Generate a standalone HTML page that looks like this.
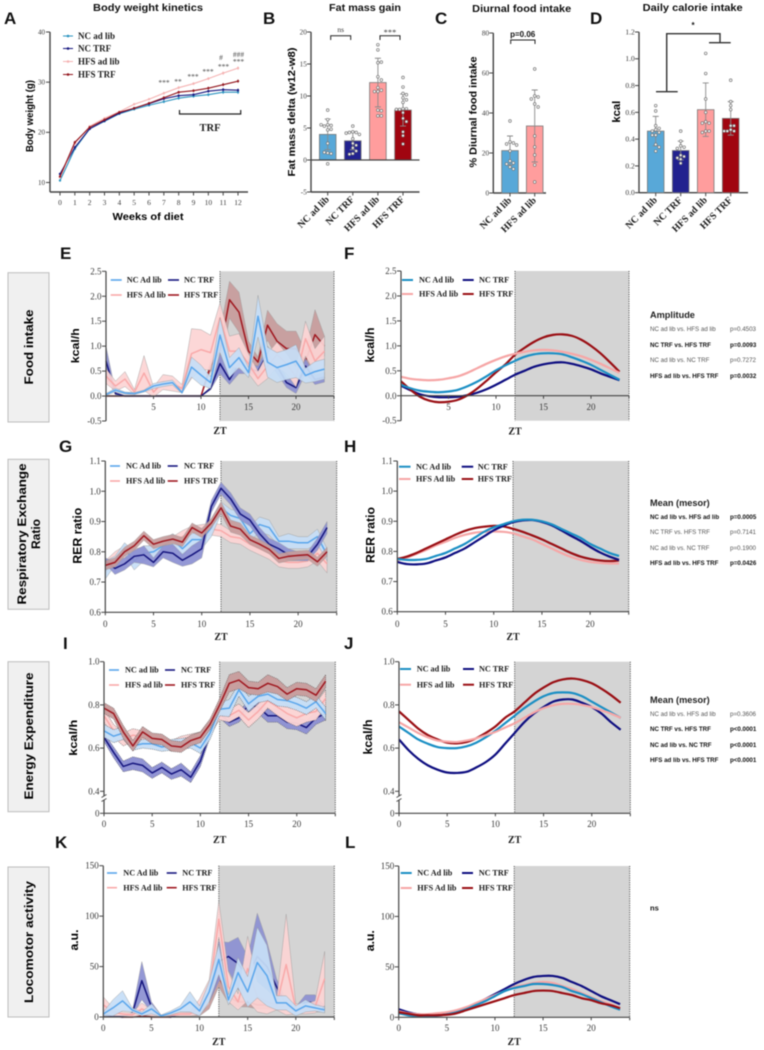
<!DOCTYPE html>
<html lang="en">
<head>
<meta charset="utf-8">
<title>Diet and time-restricted feeding figure</title>
<style>
html,body{margin:0;padding:0;background:#fff;width:764px;height:1050px;overflow:hidden}
svg{display:block;filter:blur(.4px)}
.t{font-family:"Liberation Sans",sans-serif;font-weight:bold;fill:#111}
.s{font-family:"Liberation Serif",serif;fill:#3a3a3a}
.sb{font-family:"Liberation Serif",serif;font-weight:bold;fill:#1c1c1c}
.l{font-family:"Liberation Sans",sans-serif;font-weight:bold;fill:#000}
.r{font-family:"Liberation Sans",sans-serif;font-size:6.2px;fill:#555}
.rb{font-family:"Liberation Sans",sans-serif;font-size:6.2px;font-weight:bold;fill:#111}
.h{font-family:"Liberation Sans",sans-serif;font-size:9.2px;font-weight:bold;fill:#222}
</style>
</head>
<body>
<svg id="figure" xmlns="http://www.w3.org/2000/svg" width="764" height="1050" viewBox="0 0 764 1050">
<rect x="0" y="0" width="764" height="1050" fill="#fff"/>

<g font-family="Liberation Sans" font-weight="bold" font-size="17" fill="#111">
<text x="4" y="24">A</text>
<text x="263" y="24">B</text>
<text x="435" y="24">C</text>
<text x="590" y="24">D</text>
<text x="60" y="259">E</text>
<text x="344" y="259">F</text>
<text x="59" y="452">G</text>
<text x="344" y="452">H</text>
<text x="63" y="649">I</text>
<text x="344" y="649">J</text>
<text x="55" y="848">K</text>
<text x="345" y="848">L</text>
</g>

<g text-anchor="middle">
<text class="t" x="148" y="11" font-size="10" textLength="110" lengthAdjust="spacingAndGlyphs">Body weight kinetics</text>
<text class="t" x="365" y="11" font-size="10" textLength="72" lengthAdjust="spacingAndGlyphs">Fat mass gain</text>
<text class="t" x="521.7" y="12" font-size="10" textLength="99" lengthAdjust="spacingAndGlyphs">Diurnal food intake</text>
<text class="t" x="692.7" y="11" font-size="10" textLength="100" lengthAdjust="spacingAndGlyphs">Daily calorie intake</text>
</g>

<g>
<rect x="8" y="272.7" width="41" height="149.3" fill="#f0f0f0" stroke="#bdbdbd"/>
<text class="l" text-anchor="middle" font-size="12" transform="translate(33,347) rotate(-90)" textLength="75" lengthAdjust="spacingAndGlyphs">Food intake</text>
</g>
<g>
<rect x="8" y="459.3" width="41" height="150" fill="#f0f0f0" stroke="#bdbdbd"/>
<text class="l" text-anchor="middle" font-size="12" transform="translate(26,534) rotate(-90)" textLength="141" lengthAdjust="spacingAndGlyphs">Respiratory Exchange</text>
<text class="l" text-anchor="middle" font-size="12" transform="translate(40,534) rotate(-90)">Ratio</text>
</g>
<g>
<rect x="8" y="661.7" width="41" height="150" fill="#f0f0f0" stroke="#bdbdbd"/>
<text class="l" text-anchor="middle" font-size="12" transform="translate(33,736) rotate(-90)" textLength="127" lengthAdjust="spacingAndGlyphs">Energy Expenditure</text>
</g>
<g>
<rect x="8" y="867" width="41" height="150" fill="#f0f0f0" stroke="#bdbdbd"/>
<text class="l" text-anchor="middle" font-size="12" transform="translate(33,942) rotate(-90)" textLength="122" lengthAdjust="spacingAndGlyphs">Locomotor activity</text>
</g>

<g id="charts"></g>

<g text-anchor="middle">
<g class="s" font-size="7.5" fill="#666">
<text x="164" y="85">***</text>
<text x="178" y="84">**</text>
<text x="193" y="79">***</text>
<text x="208" y="74">***</text>
<text x="223.5" y="69">***</text>
<text x="221" y="60">#</text>
<text x="238.5" y="64">***</text>
<text x="238.5" y="57">###</text>
</g>
<path d="M179.5 110V114H240.7V110" fill="none" stroke="#222" stroke-width="1.2"/>
<text class="sb" x="210" y="131" font-size="10.5">TRF</text>
</g>

<g text-anchor="middle">
<path d="M330.7 40V35.7H350.7V40" fill="none" stroke="#222"/>
<text class="s" x="340.7" y="32" font-size="7.5" fill="#777">ns</text>
<path d="M380 40V35.7H400V40" fill="none" stroke="#222"/>
<text class="s" x="390" y="35" font-size="8.5" fill="#555">***</text>
</g>
<g text-anchor="middle">
<path d="M510.7 44V40H535V44" fill="none" stroke="#222"/>
<text class="t" x="522.7" y="37" font-size="8">p=0.06</text>
</g>
<g text-anchor="middle">
<path d="M656 91.7H677.7M666.7 91.7V33.7H720V42.7M709 42.7H730.7" fill="none" stroke="#333" stroke-width="1.4"/>
<text class="t" x="693" y="28" font-size="8">*</text>
</g>

<g>
<text class="h" x="650" y="318">Amplitude</text>
<text class="r" x="650" y="331">NC ad lib vs. HFS ad lib</text><text class="r" x="730" y="331">p=0.4503</text>
<text class="rb" x="650" y="347">NC TRF vs. HFS TRF</text><text class="rb" x="730" y="347">p=0.0093</text>
<text class="r" x="650" y="362">NC ad lib vs. NC TRF</text><text class="r" x="730" y="362">p=0.7272</text>
<text class="rb" x="650" y="378">HFS ad lib vs. HFS TRF</text><text class="rb" x="730" y="378">p=0.0032</text>
</g>
<g>
<text class="h" x="650" y="506">Mean (mesor)</text>
<text class="rb" x="650" y="519">NC ad lib vs. HFS ad lib</text><text class="rb" x="730" y="519">p=0.0005</text>
<text class="r" x="650" y="534">NC TRF vs. HFS TRF</text><text class="r" x="730" y="534">p=0.7141</text>
<text class="r" x="650" y="550">NC ad lib vs. NC TRF</text><text class="r" x="730" y="550">p=0.1900</text>
<text class="rb" x="650" y="565">HFS ad lib vs. HFS TRF</text><text class="rb" x="730" y="565">p=0.0426</text>
</g>
<g>
<text class="h" x="650" y="703">Mean (mesor)</text>
<text class="r" x="650" y="716">NC ad lib vs. HFS ad lib</text><text class="r" x="730" y="716">p=0.3606</text>
<text class="rb" x="650" y="731">NC TRF vs. HFS TRF</text><text class="rb" x="730" y="731">p&lt;0.0001</text>
<text class="rb" x="650" y="747">NC ad lib vs. NC TRF</text><text class="rb" x="730" y="747">p&lt;0.0001</text>
<text class="rb" x="650" y="762">HFS ad lib vs. HFS TRF</text><text class="rb" x="730" y="762">p&lt;0.0001</text>
</g>
<text class="t" x="650" y="910.5" font-size="7.5">ns</text>
</svg>

<script>
// ---------- Panel A data ----------
const aWeeks = [0,1,2,3,4,5,6,7,8,9,10,11,12];
const aYTicks = [10,20,30,40];
const aNcAdLib = [10.4,16.7,20.7,22.2,23.7,24.6,25.4,26.1,26.8,27.2,27.5,28,28];
const aNcTrf = [11.7,17,20.7,22.3,23.8,24.8,25.7,26.7,27.3,27.5,28.2,28.5,28.4];
const aHfsAdLib = [11,17.8,21.2,22.8,24.1,25.6,26.6,27.8,28.9,29.7,30.7,31.8,32.8];
const aHfsTrf = [11.2,18,21,22.5,24,24.8,25.8,26.9,28,28.3,28.8,29.5,30.2];
const aErrors = [0.2,0.3,0.2,0.2,0.2,0.2,0.2,0.3,0.3,0.3,0.3,0.35,0.35];

// ---------- Panels B, C, D data ----------
const bCategories = ['NC ad lib','NC TRF','HFS ad lib','HFS TRF'];
const bYTicks = [-5,0,5,10,15,20];
const bMeans = [4,3,12.1,7.8];
const bErrors = [2.4,1.4,3.8,2.5];
const bDots = [
  [7.8,6.3,5.5,5.4,5.3,5.5,4.7,4.8,2.6,1.1,1.0,1.2,-0.6],
  [5.3,4.4,4.3,4.3,4.2,4.0,3.3,2.6,2.3,1.9,1.4,1.0,0.9],
  [18,17.2,15.2,15.3,13,12.5,11.3,10.9,10.7,10.7,7.8,7.7,6.9,6.9],
  [12.9,11.4,10.4,10.2,9.7,9.4,9,8,8,7.9,7.9,7.4,6.5,6,4.4,3.8,2.5]
];
const cCategories = ['NC ad lib','HFS ad lib'];
const cYTicks = [0,20,40,60,80];
const cMeans = [21.2,33.5];
const cErrors = [7.3,18];
const cDots = [
  [36,25.5,25,24.5,24,21,16,15,14.5,13,12],
  [62,48.5,48,47,44.5,43,28.5,23,19,14,5.5]
];
const dCategories = ['NC ad lib','NC TRF','HFS ad lib','HFS TRF'];
const dYTicks = [0,0.2,0.4,0.6,0.8,1.0,1.2];
const dMeans = [0.46,0.315,0.62,0.555];
const dErrors = [0.11,0.07,0.2,0.125];
const dDots = [
  [0.65,0.61,0.5,0.48,0.47,0.46,0.45,0.43,0.43,0.36,0.34,0.31],
  [0.46,0.385,0.35,0.34,0.33,0.28,0.27,0.26,0.25,0.22],
  [1.04,0.89,0.7,0.6,0.53,0.52,0.52,0.46,0.46,0.45],
  [0.84,0.68,0.65,0.62,0.5,0.5,0.47,0.46,0.46,0.46]
];

// ---------- Circadian data ----------
const hours = [0,1,2,3,4,5,6,7,8,9,10,11,12,13,14,15,16,17,18,19,20,21,22,23];
const zXTicks = [0,5,10,15,20];
const zXTicksNoZero = [5,10,15,20];

const eYTicks = [-0.5,0,0.5,1,1.5,2,2.5];
const eNcAd = [0.03,0.12,0.06,0.05,0.1,0.2,0.24,0.27,0.07,0.58,0.42,0.27,1.22,0.57,0.77,0.47,1.6,0.68,0.57,0.63,0.7,0.41,0.49,0.54];
const eNcAdErr = [0.02,0.04,0.02,0.02,0.02,0.05,0.05,0.05,0.02,0.2,0.2,0.12,0.35,0.2,0.2,0.1,0.42,0.3,0.3,0.3,0.33,0.15,0.2,0.2];
const eNcTrf = [0.7,0.05,0,0,0,0,0,0,0,0,0,0.15,0.65,0.33,0.65,0.55,0.5,0.85,0.6,0.27,0.17,0.6,0.33,0.38];
const eNcTrfErr = [0.3,0.03,0,0,0,0,0,0,0,0,0.01,0.03,0.2,0.1,0.2,0.1,0.1,0.15,0.15,0.1,0.12,0.15,0.1,0.1];
const eHfsAd = [0.4,0.2,0.34,0.08,0.46,0.08,0.28,0.25,0.15,0.85,0.93,0.87,1.57,0.9,0.9,0.65,0.35,0.6,0.83,0.65,0.38,1.15,0.7,0.9];
const eHfsAdErr = [0.15,0.1,0.15,0.05,0.35,0.1,0.15,0.15,0.08,0.5,0.4,0.35,0.3,0.3,0.35,0.2,0.15,0.25,0.25,0.2,0.2,0.35,0.25,0.3];
const eHfsTrf = [0,0,0,0,0,0,0,0,0,0,0,0.6,0.9,1.93,1.68,0.9,0.68,1.42,1.1,0.95,0.95,0.7,1.23,1.0];
const eHfsTrfErr = [0,0,0,0,0,0,0,0,0,0,0.01,0.1,0.4,0.37,0.4,0.2,0.1,0.3,0.35,0.35,0.35,0.2,0.5,0.2];

const fNcAd = [0.22,0.15,0.1,0.08,0.07,0.085,0.12,0.19,0.28,0.39,0.51,0.61,0.7,0.78,0.83,0.85,0.85,0.83,0.77,0.7,0.62,0.52,0.42,0.32];
const fNcTrf = [0.2,0.11,0.03,-0.01,-0.03,-0.03,-0.02,0.01,0.06,0.13,0.22,0.32,0.42,0.5,0.58,0.63,0.66,0.67,0.64,0.59,0.53,0.45,0.38,0.31];
const fHfsAd = [0.38,0.34,0.32,0.31,0.32,0.35,0.39,0.46,0.55,0.64,0.72,0.79,0.84,0.88,0.91,0.92,0.91,0.88,0.84,0.79,0.72,0.64,0.55,0.46];
const fHfsTrf = [0.29,0.12,-0.02,-0.1,-0.13,-0.12,-0.08,0.01,0.14,0.3,0.47,0.63,0.82,0.96,1.08,1.17,1.22,1.23,1.2,1.12,1.0,0.85,0.67,0.48];

const gYTicks = [0.6,0.7,0.8,0.9,1.0,1.1];
const gNcAd = [0.74,0.77,0.81,0.77,0.795,0.8,0.82,0.84,0.81,0.84,0.84,0.88,0.945,0.92,0.91,0.86,0.89,0.88,0.835,0.835,0.83,0.83,0.85,0.79];
const gNcAdErr = [0.03,0.015,0.02,0.03,0.025,0.02,0.02,0.02,0.025,0.02,0.03,0.03,0.02,0.02,0.025,0.025,0.025,0.025,0.015,0.025,0.02,0.02,0.025,0.02];
const gNcTrf = [0.77,0.745,0.76,0.785,0.79,0.765,0.8,0.795,0.772,0.79,0.81,0.95,1.01,0.975,0.925,0.905,0.86,0.825,0.81,0.79,0.785,0.785,0.825,0.88];
const gNcTrfErr = [0.01,0.02,0.02,0.02,0.03,0.015,0.02,0.03,0.02,0.03,0.03,0.02,0.02,0.02,0.02,0.02,0.02,0.02,0.02,0.02,0.015,0.015,0.02,0.02];
const gHfsAd = [0.75,0.78,0.8,0.79,0.795,0.805,0.82,0.83,0.85,0.865,0.87,0.875,0.87,0.85,0.845,0.825,0.81,0.795,0.77,0.765,0.765,0.77,0.795,0.76];
const gHfsAdErr = [0.02,0.02,0.02,0.02,0.02,0.02,0.02,0.02,0.02,0.02,0.02,0.02,0.02,0.02,0.02,0.02,0.02,0.02,0.02,0.02,0.02,0.02,0.025,0.03];
const gHfsTrf = [0.755,0.765,0.8,0.82,0.853,0.825,0.835,0.842,0.832,0.88,0.862,0.895,0.945,0.885,0.875,0.84,0.825,0.808,0.778,0.785,0.788,0.79,0.767,0.8];
const gHfsTrfErr = [0.015,0.015,0.015,0.015,0.015,0.015,0.015,0.015,0.015,0.015,0.015,0.015,0.02,0.02,0.02,0.015,0.015,0.015,0.015,0.015,0.015,0.015,0.015,0.015];

const hNcAd = [0.775,0.772,0.772,0.775,0.785,0.795,0.81,0.825,0.845,0.865,0.88,0.89,0.9,0.905,0.905,0.9,0.89,0.875,0.86,0.845,0.825,0.81,0.795,0.785];
const hNcTrf = [0.765,0.758,0.757,0.76,0.77,0.78,0.795,0.81,0.83,0.85,0.87,0.885,0.897,0.903,0.904,0.898,0.887,0.87,0.852,0.835,0.815,0.797,0.783,0.772];
const hHfsAd = [0.77,0.78,0.792,0.805,0.82,0.832,0.845,0.855,0.862,0.865,0.866,0.865,0.86,0.85,0.84,0.825,0.81,0.795,0.782,0.772,0.765,0.762,0.76,0.76];
const hHfsTrf = [0.775,0.783,0.795,0.81,0.825,0.84,0.855,0.868,0.877,0.882,0.885,0.883,0.875,0.865,0.853,0.84,0.825,0.81,0.795,0.783,0.775,0.77,0.768,0.77];

const iYTicks = [0,0.4,0.6,0.8,1.0];
const iNcAd = [0.68,0.655,0.67,0.61,0.62,0.62,0.605,0.615,0.62,0.625,0.6,0.67,0.78,0.785,0.87,0.805,0.84,0.85,0.825,0.82,0.805,0.785,0.815,0.76];
const iNcAdErr = [0.03,0.03,0.03,0.02,0.02,0.025,0.02,0.025,0.025,0.025,0.025,0.03,0.03,0.04,0.03,0.035,0.03,0.03,0.03,0.03,0.03,0.03,0.03,0.03];
const iNcTrf = [0.65,0.58,0.515,0.53,0.52,0.485,0.51,0.48,0.5,0.465,0.54,0.67,0.76,0.72,0.74,0.8,0.79,0.75,0.75,0.72,0.715,0.695,0.74,0.76];
const iNcTrfErr = [0.02,0.025,0.025,0.03,0.03,0.025,0.025,0.025,0.03,0.025,0.025,0.02,0.02,0.02,0.02,0.03,0.03,0.03,0.03,0.03,0.03,0.03,0.03,0.03];
const iHfsAd = [0.75,0.68,0.64,0.66,0.65,0.64,0.63,0.61,0.63,0.64,0.65,0.7,0.76,0.75,0.775,0.73,0.77,0.82,0.79,0.76,0.74,0.76,0.77,0.83];
const iHfsAdErr = [0.03,0.03,0.03,0.03,0.03,0.025,0.025,0.025,0.025,0.025,0.025,0.03,0.03,0.03,0.03,0.035,0.035,0.035,0.04,0.04,0.04,0.04,0.04,0.04];
const iHfsTrf = [0.785,0.76,0.675,0.61,0.675,0.645,0.64,0.61,0.605,0.635,0.65,0.71,0.8,0.9,0.915,0.88,0.875,0.9,0.885,0.85,0.875,0.87,0.845,0.91];
const iHfsTrfErr = [0.025,0.025,0.03,0.025,0.025,0.025,0.025,0.025,0.025,0.025,0.025,0.025,0.03,0.04,0.04,0.03,0.03,0.04,0.035,0.03,0.03,0.03,0.03,0.03];

const jNcAd = [0.7,0.67,0.64,0.62,0.605,0.6,0.6,0.608,0.625,0.65,0.68,0.715,0.75,0.785,0.815,0.84,0.855,0.858,0.855,0.84,0.815,0.79,0.765,0.74];
const jNcTrf = [0.64,0.59,0.55,0.52,0.5,0.487,0.485,0.49,0.51,0.535,0.57,0.62,0.67,0.72,0.76,0.79,0.815,0.825,0.825,0.81,0.79,0.76,0.72,0.685];
const jHfsAd = [0.72,0.695,0.67,0.65,0.635,0.63,0.628,0.635,0.645,0.66,0.675,0.695,0.715,0.74,0.765,0.785,0.798,0.805,0.805,0.8,0.79,0.775,0.76,0.74];
const jHfsTrf = [0.77,0.73,0.69,0.66,0.64,0.625,0.622,0.628,0.645,0.67,0.7,0.74,0.77,0.81,0.85,0.88,0.905,0.918,0.922,0.915,0.9,0.875,0.845,0.81];

const kYTicks = [0,50,100,150];
const kNcAd = [3,9,16,7,3,8,1,4,8,15,6,25,57,17,44,25,54,41,14,14,6,11,9,7];
const kNcAdErr = [2,8,10,2,2,5,1,2,3,10,5,10,15,5,15,15,35,30,7,7,5,6,3,3];
const kNcTrf = [2,1,0,3,36,10,1,0,3,4,4,20,55,60,53,40,60,50,30,12,7,15,14,8];
const kNcTrfErr = [1,1,1,2,19,5,1,1,1,1,2,6,20,14,26,20,43,25,8,5,3,7,8,3];
const kHfsAd = [12,5,3,2,8,4,1,2,3,3,10,25,97,30,15,48,20,15,12,52,8,8,10,38];
const kHfsAdErr = [8,4,2,2,6,3,1,1,2,2,8,12,18,15,8,32,15,12,5,50,5,5,6,27];
const kHfsTrf = [1,1,0,0,1,0,0,0,3,3,4,16,40,20,15,15,12,12,10,10,8,8,8,8];
const kHfsTrfErr = [2,1,1,1,1,1,1,1,2,2,3,8,10,6,5,5,4,4,3,3,3,3,3,3];

const lNcAd = [4,2,1,0.8,1.5,3,5,8,12,16,21,26,29,31,33,33,32,30,26,23,19,15,11,7.5];
const lNcTrf = [8,5,3,2,2,3,5,9,13,18,23,28,33,37,40,41,41,39,35,31,26,21,17,13];
const lHfsAd = [6,4,3,3,4,5,7,10,14,18,22,26,30,32,34,35,34,31,28,24,20,16,13,9];
const lHfsTrf = [5,3.5,2,2,2,2.5,4,7,10,13,16,19,22,24,26,26.5,26,24,22,19,17,14,12,9];

// ---------- Helpers ----------
const NS = 'http://www.w3.org/2000/svg';
const chartsRoot = document.getElementById('charts');
const AXIS = '#444';
const barColors = ['#58a8d8','#22228f','#ff9d9d','#a00510'];

function mk(tag, attrs, parent, text) {
  const node = document.createElementNS(NS, tag);
  for (const k in attrs) node.setAttribute(k, attrs[k]);
  if (text !== undefined) node.textContent = text;
  parent.appendChild(node);
  return node;
}
function linear(d0, d1, r0, r1) {
  return function (v) { return r0 + (v - d0) * (r1 - r0) / (d1 - d0); };
}
function linePath(xs, ys) {
  return xs.map(function (x, i) { return (i ? 'L' : 'M') + x.toFixed(2) + ' ' + ys[i].toFixed(2); }).join('');
}
function smoothPath(xs, ys) {
  let d = 'M' + xs[0].toFixed(2) + ' ' + ys[0].toFixed(2);
  for (let i = 0; i < xs.length - 1; i++) {
    const p0 = Math.max(0, i - 1), p3 = Math.min(xs.length - 1, i + 2);
    const c1x = xs[i] + (xs[i + 1] - xs[p0]) / 6, c1y = ys[i] + (ys[i + 1] - ys[p0]) / 6;
    const c2x = xs[i + 1] - (xs[p3] - xs[i]) / 6, c2y = ys[i + 1] - (ys[p3] - ys[i]) / 6;
    d += 'C' + c1x.toFixed(2) + ' ' + c1y.toFixed(2) + ' ' + c2x.toFixed(2) + ' ' + c2y.toFixed(2) + ' ' + xs[i + 1].toFixed(2) + ' ' + ys[i + 1].toFixed(2);
  }
  return d;
}
function axisLine(g, x1, y1, x2, y2, w) {
  const el = mk('line', {x1: x1, y1: y1, x2: x2, y2: y2, stroke: AXIS, 'stroke-width': w || 1.2}, g);
  
  
  return el;
}
function tick(g, x1, y1, x2, y2) {
  const el = mk('line', {x1: x1, y1: y1, x2: x2, y2: y2, stroke: AXIS, 'stroke-width': 1}, g);
  
  
}
function tickLabel(g, x, y, anchor, label, size) {
  const el = mk('text', {x: x, y: y, 'text-anchor': anchor, class: 's', 'font-size': size || 9}, g, label);
  
  
}
function yTitle(g, x, y, size, label, length) {
  const attrs = {transform: 'translate(' + x + ',' + y + ') rotate(-90)', 'text-anchor': 'middle', class: 'l', 'font-size': size};
  if (length) { attrs.textLength = length; attrs.lengthAdjust = 'spacingAndGlyphs'; }
  const el = mk('text', attrs, g, label);
  
  
}

// ---------- Panel A ----------
(function () {
  const g = mk('g', {}, chartsRoot);
  
  
  const x = linear(0, 12, 60, 238), y = linear(10, 40, 182.5, 32);
  axisLine(g, 50, 32, 50, 192, 1.4);
  axisLine(g, 50, 192, 248, 192, 1.4);
  aYTicks.forEach(function (v) { tick(g, 46, y(v), 50, y(v)); tickLabel(g, 45, y(v) + 2.4, 'end', String(v), 7); });
  aWeeks.forEach(function (v) { tick(g, x(v), 192, x(v), 195.5); tickLabel(g, x(v), 205, 'middle', String(v), 7.5); });
  const xt = mk('text', {x: 148, y: 220, 'text-anchor': 'middle', class: 'l', 'font-size': 10, textLength: 71, lengthAdjust: 'spacingAndGlyphs'}, g, 'Weeks of diet');
  
  
  yTitle(g, 33, 116, 10.5, 'Body weight (g)', 72);
  const series = [
    {name: 'nc-ad-lib', label: 'NC ad lib', color: '#2a93bf', vals: aNcAdLib, ly: 36},
    {name: 'nc-trf', label: 'NC TRF', color: '#17177f', vals: aNcTrf, ly: 48.5},
    {name: 'hfs-ad-lib', label: 'HFS ad lib', color: '#f5b3b3', vals: aHfsAdLib, ly: 61.5},
    {name: 'hfs-trf', label: 'HFS TRF', color: '#93161e', vals: aHfsTrf, ly: 74.5}
  ];
  series.forEach(function (s) {
    aWeeks.forEach(function (w, i) {
      const wh = mk('line', {x1: x(w), x2: x(w), y1: y(s.vals[i] - aErrors[i]), y2: y(s.vals[i] + aErrors[i]), stroke: s.color, 'stroke-width': 0.6}, g);
      
      
    });
    const ln = mk('path', {d: linePath(aWeeks.map(x), s.vals.map(y)), fill: 'none', stroke: s.color, 'stroke-width': 1.1}, g);
    
    
    aWeeks.forEach(function (w, i) {
      const c = mk('circle', {cx: x(w), cy: y(s.vals[i]), r: 1.2, fill: s.color}, g);
      
      
    });
    const ll = mk('line', {x1: 63, x2: 73, y1: s.ly, y2: s.ly, stroke: s.color, 'stroke-width': 1}, g);
    
    
    const lc = mk('circle', {cx: 68, cy: s.ly, r: 1.3, fill: s.color}, g);
    
    
    const lt = mk('text', {x: 78, y: s.ly + 2.8, class: 'sb', 'font-size': 9}, g, s.label);
    
    
  });
})();

// ---------- Bar panels ----------
function barChart(cfg) {
  const g = mk('g', {}, chartsRoot);
  
  
  const y = linear(cfg.d0, cfg.d1, cfg.bottom, cfg.top);
  axisLine(g, cfg.axisX, cfg.top, cfg.axisX, cfg.bottom, 1.4);
  axisLine(g, cfg.axisX, cfg.bottom, cfg.axisEnd, cfg.bottom, 1.4);
  cfg.ticks.forEach(function (v) {
    tick(g, cfg.axisX - 4, y(v), cfg.axisX, y(v));
    tickLabel(g, cfg.axisX - 4.2, y(v) + 2.4, 'end', cfg.fmt(v), cfg.tickSize);
  });
  yTitle(g, cfg.titleX, cfg.titleY, cfg.titleSize, cfg.title, cfg.titleLen);
  const base = y(Math.max(0, cfg.d0));
  cfg.categories.forEach(function (cat, i) {
    const cx = cfg.first + i * cfg.step;
    const col = cfg.colors[i];
    const top = y(cfg.means[i]);
    const bar = mk('rect', {x: cx - 8.3, y: Math.min(top, base), width: 16.6, height: Math.abs(base - top), fill: col, stroke: '#7a7a7a', 'stroke-width': 0.8}, g);
    
    
    const hi = y(cfg.means[i] + cfg.errors[i]), lo = y(cfg.means[i] - cfg.errors[i]);
    const wh = mk('path', {d: 'M' + cx + ' ' + lo + 'V' + hi + 'M' + (cx - 3) + ' ' + hi + 'H' + (cx + 3) + 'M' + (cx - 3) + ' ' + lo + 'H' + (cx + 3), fill: 'none', stroke: '#8a8a8a', 'stroke-width': 0.9}, g);
    
    
    const placed = [];
    cfg.dots[i].forEach(function (v) {
      const dy = y(v);
      const offsets = [0, 3.4, -3.4, 6.6, -6.6];
      let off = 0;
      for (let k = 0; k < offsets.length; k++) {
        off = offsets[k];
        if (!placed.some(function (p) { return Math.hypot(p[0] - off, p[1] - dy) < 3.3; })) break;
      }
      placed.push([off, dy]);
      const c = mk('circle', {cx: cx + off, cy: dy, r: 1.35, fill: '#fff', stroke: '#777', 'stroke-width': 0.7}, g);
      
      
    });
    tick(g, cx, cfg.bottom, cx, cfg.bottom + 3.5);
    const lb = mk('text', {transform: 'translate(' + (cx + 2) + ',' + (cfg.bottom + 8) + ') rotate(-45)', 'text-anchor': 'end', class: 'sb', 'font-size': 9.8}, g, cat);
    
    
  });
  if (cfg.d0 < 0) axisLine(g, cfg.axisX, base, cfg.axisEnd, base, 1.2);
}
barChart({name: 'fat-mass-chart', categories: bCategories, means: bMeans, errors: bErrors, dots: bDots, ticks: bYTicks,
  colors: barColors, d0: -5, d1: 20, top: 32, bottom: 192, axisX: 311, axisEnd: 419.5, first: 327.7, step: 25.1, tickSize: 7.2,
  fmt: function (v) { return String(v); }, title: 'Fat mass delta (w12-w8)', titleX: 295, titleY: 112, titleSize: 10.5, titleLen: 129});
barChart({name: 'diurnal-food-chart', categories: cCategories, means: cMeans, errors: cErrors, dots: cDots, ticks: cYTicks,
  colors: [barColors[0], barColors[2]], d0: 0, d1: 80, top: 33, bottom: 193, axisX: 493.3, axisEnd: 546, first: 510, step: 24.7, tickSize: 7.2,
  fmt: function (v) { return String(v); }, title: '% Diurnal food intake', titleX: 476.5, titleY: 112, titleSize: 10.5, titleLen: 111});
barChart({name: 'daily-calorie-chart', categories: dCategories, means: dMeans, errors: dErrors, dots: dDots, ticks: dYTicks,
  colors: barColors, d0: 0, d1: 1.2, top: 32, bottom: 192.7, axisX: 639, axisEnd: 748, first: 655.7, step: 25, tickSize: 7.5,
  fmt: function (v) { return v.toFixed(1); }, title: 'kcal', titleX: 620, titleY: 111.7, titleSize: 11, titleLen: 22});

// ---------- Circadian panels ----------
const colorsMean = {ncAd: '#5aa6ec', ncTrf: '#16167f', hfsAd: '#f9a9a9', hfsTrf: '#a01820'};
const colorsFit = {ncAd: '#1b8fc4', ncTrf: '#0e0e80', hfsAd: '#f6a6a6', hfsTrf: '#9a0f14'};
const bandFills = {ncAd: '#c6def6', ncTrf: '#8c90d2', hfsAd: '#fcd4d4', hfsTrf: '#c79c9c'};
const seriesNames = {ncAd: 'nc-ad-lib', ncTrf: 'nc-trf', hfsAd: 'hfs-ad-lib', hfsTrf: 'hfs-trf'};

function circadian(cfg) {
  const g = mk('g', {}, chartsRoot);
  
  
  const x = linear(0, 24, cfg.x0, cfg.x24);
  const y = cfg.y;
  const x12 = x(12);
  const night = mk('rect', {x: x12, y: cfg.top, width: cfg.x24 - x12, height: cfg.bottom - cfg.top, fill: '#d4d4d4'}, g);
  
  
  [x12, cfg.x24].forEach(function (lx) {
    const dl = mk('line', {x1: lx, x2: lx, y1: cfg.top, y2: cfg.bottom, stroke: '#333', 'stroke-width': 0.9, 'stroke-dasharray': '1 1.3'}, g);
    
    
  });
  cfg.order.forEach(function (key) {
    const s = cfg.series[key];
    if (!s.err) return;
    const xs = hours.map(x);
    const up = s.vals.map(function (v, i) { return y(v + s.err[i]); });
    const lw = s.vals.map(function (v, i) { return y(cfg.floor !== undefined ? Math.max(cfg.floor, v - s.err[i]) : v - s.err[i]); });
    const d = linePath(xs, up) + linePath(xs.slice().reverse(), lw.slice().reverse()).replace('M', 'L') + 'Z';
    const band = mk('path', {d: d, fill: bandFills[key], 'fill-opacity': cfg.bandOpacity, stroke: cfg.bandStroke, 'stroke-width': cfg.bandStrokeW, 'stroke-dasharray': cfg.bandDash}, g);
    
    
    const ln = mk('path', {d: linePath(xs, s.vals.map(y)), fill: 'none', stroke: colorsMean[key], 'stroke-width': 1.5, 'stroke-linejoin': 'round'}, g);
    
    
  });
  cfg.order.forEach(function (key) {
    const s = cfg.series[key];
    if (s.err) return;
    const fit = mk('path', {d: smoothPath(hours.map(x), s.vals.map(y)), fill: 'none', stroke: colorsFit[key], 'stroke-width': 2.2}, g);
    
    
  });
  // axes
  axisLine(g, cfg.x0, cfg.top, cfg.x0, cfg.bottom, 1.2);
  axisLine(g, cfg.x0, cfg.axisY, cfg.x24, cfg.axisY, 1.2);
  cfg.yTicks.forEach(function (v) {
    tick(g, cfg.x0 - 4, y(v), cfg.x0, y(v));
    tickLabel(g, cfg.x0 - 4.5, y(v) + 3, 'end', cfg.fmt(v));
  });
  cfg.xTicks.forEach(function (v) {
    tick(g, x(v), cfg.axisY, x(v), cfg.axisY + 3);
    tickLabel(g, x(v), cfg.xLabelY, 'middle', String(v));
  });
  tick(g, cfg.x24, cfg.axisY, cfg.x24, cfg.axisY + 3);
  if (cfg.breakY) {
    const mask = mk('rect', {x: cfg.x0 - 2, y: cfg.breakY - 2, width: 4, height: 4, fill: '#fff'}, g);
    
    
    [-2, 2].forEach(function (o) {
      const sl = mk('line', {x1: cfg.x0 - 2.5, y1: cfg.breakY + o + 1.5, x2: cfg.x0 + 2.5, y2: cfg.breakY + o - 1.5, stroke: AXIS, 'stroke-width': 1}, g);
      
      
    });
  }
  const zt = mk('text', {x: x12, y: cfg.ztY, 'text-anchor': 'middle', class: 'sb', 'font-size': 10}, g, 'ZT');
  
  
  yTitle(g, cfg.titleX, cfg.titleY, cfg.titleSize, cfg.title, cfg.titleLen);
  // legend
  const L = cfg.legend;
  const entries = [
    {key: 'ncAd', label: 'NC ' + L.word + ' lib', lx: L.a, tx: L.ta, ly: L.r1},
    {key: 'ncTrf', label: 'NC TRF', lx: L.b, tx: L.tb, ly: L.r1},
    {key: 'hfsAd', label: 'HFS ' + L.word + ' lib', lx: L.a, tx: L.ta, ly: L.r2},
    {key: 'hfsTrf', label: 'HFS TRF', lx: L.b, tx: L.tb, ly: L.r2}
  ];
  entries.forEach(function (e) {
    const colors = cfg.series[e.key].err ? colorsMean : colorsFit;
    const ls = mk('line', {x1: e.lx, x2: e.lx + L.w, y1: e.ly, y2: e.ly, stroke: colors[e.key], 'stroke-width': L.sw}, g);
    
    
    const lt = mk('text', {x: e.tx, y: e.ly + 2.7, class: 'sb', 'font-size': 8.2}, g, e.label);
    
    
  });
}
function fmt1(v) { return v.toFixed(1); }
function fmt0(v) { return String(v); }
function energyY(top, p04, zero) {
  const up = linear(0.4, 1.0, p04, top);
  return function (v) { return v === 0 ? zero : up(v); };
}
const lightEdge = {bandOpacity: 0.93, bandStroke: '#999', bandStrokeW: 0.4, bandDash: 'none'};
const dotEdge = {bandOpacity: 0.96, bandStroke: '#444', bandStrokeW: 0.6, bandDash: '0.8 1.1'};

circadian(Object.assign({name: 'food-intake-mean-chart', x0: 106, x24: 334, top: 271.3, bottom: 421, axisY: 396, y: linear(-0.5, 2.5, 421, 271.3),
  yTicks: eYTicks, xTicks: zXTicksNoZero, xLabelY: 410, fmt: fmt1, ztY: 434, title: 'kcal/h', titleX: 79, titleY: 345.7, titleSize: 11, titleLen: 35,
  order: ['hfsTrf','ncTrf','hfsAd','ncAd'],
  series: {ncAd: {vals: eNcAd, err: eNcAdErr}, ncTrf: {vals: eNcTrf, err: eNcTrfErr}, hfsAd: {vals: eHfsAd, err: eHfsAdErr}, hfsTrf: {vals: eHfsTrf, err: eHfsTrfErr}},
  legend: {word: 'Ad', a: 110.7, ta: 126.7, b: 168, tb: 184, r1: 280, r2: 295, w: 11, sw: 1.6}}, lightEdge));

circadian({name: 'food-intake-fit-chart', x0: 401, x24: 629, top: 271, bottom: 420.7, axisY: 395.7, y: linear(-0.5, 2.5, 420.7, 271),
  yTicks: eYTicks, xTicks: zXTicksNoZero, xLabelY: 410, fmt: fmt1, ztY: 434.5, title: 'kcal/h', titleX: 374, titleY: 345, titleSize: 11.5, titleLen: 35,
  order: ['ncTrf','hfsTrf','hfsAd','ncAd'],
  series: {ncAd: {vals: fNcAd}, ncTrf: {vals: fNcTrf}, hfsAd: {vals: fHfsAd}, hfsTrf: {vals: fHfsTrf}},
  legend: {word: 'Ad', a: 402, ta: 419, b: 462.7, tb: 479, r1: 280, r2: 294, w: 11, sw: 2}});

circadian(Object.assign({name: 'rer-mean-chart', x0: 105.3, x24: 336.7, top: 461, bottom: 612.3, axisY: 612.3, y: linear(0.6, 1.1, 612.3, 461),
  yTicks: gYTicks, xTicks: zXTicks, xLabelY: 627, fmt: fmt1, ztY: 640, title: 'RER ratio', titleX: 81.5, titleY: 535.7, titleSize: 12, titleLen: 56,
  order: ['hfsAd','ncAd','ncTrf','hfsTrf'],
  series: {ncAd: {vals: gNcAd, err: gNcAdErr}, ncTrf: {vals: gNcTrf, err: gNcTrfErr}, hfsAd: {vals: gHfsAd, err: gHfsAdErr}, hfsTrf: {vals: gHfsTrf, err: gHfsTrfErr}},
  legend: {word: 'Ad', a: 110, ta: 126, b: 167.7, tb: 184, r1: 466, r2: 481, w: 10, sw: 1.6}}, lightEdge));

circadian({name: 'rer-fit-chart', x0: 397.3, x24: 628.7, top: 461, bottom: 611.7, axisY: 611.7, y: linear(0.6, 1.1, 611.7, 461),
  yTicks: gYTicks, xTicks: zXTicks, xLabelY: 627, fmt: fmt1, ztY: 640, title: 'RER ratio', titleX: 374.5, titleY: 535, titleSize: 12, titleLen: 56,
  order: ['hfsAd','hfsTrf','ncTrf','ncAd'],
  series: {ncAd: {vals: hNcAd}, ncTrf: {vals: hNcTrf}, hfsAd: {vals: hHfsAd}, hfsTrf: {vals: hHfsTrf}},
  legend: {word: 'Ad', a: 399, ta: 416, b: 461.7, tb: 477.7, r1: 466.7, r2: 479, w: 11.5, sw: 2}});

circadian(Object.assign({name: 'energy-mean-chart', x0: 104, x24: 335.3, top: 661.7, bottom: 813.3, axisY: 813.3, y: energyY(661.7, 791.3, 813.3), breakY: 798,
  yTicks: iYTicks, xTicks: zXTicks, xLabelY: 827, fmt: function (v) { return v === 0 ? '0' : v.toFixed(1); }, ztY: 843, title: 'kcal/h', titleX: 77, titleY: 737.7, titleSize: 11, titleLen: 36,
  order: ['ncTrf','hfsAd','ncAd','hfsTrf'],
  series: {ncAd: {vals: iNcAd, err: iNcAdErr}, ncTrf: {vals: iNcTrf, err: iNcTrfErr}, hfsAd: {vals: iHfsAd, err: iHfsAdErr}, hfsTrf: {vals: iHfsTrf, err: iHfsTrfErr}},
  legend: {word: 'ad', a: 109, ta: 125, b: 165, tb: 181, r1: 670, r2: 685, w: 10, sw: 1.6}}, dotEdge));

circadian({name: 'energy-fit-chart', x0: 399, x24: 630.3, top: 661.7, bottom: 813.3, axisY: 813.3, y: energyY(661.7, 791.3, 813.3), breakY: 798,
  yTicks: iYTicks, xTicks: zXTicks, xLabelY: 827, fmt: function (v) { return v === 0 ? '0' : v.toFixed(1); }, ztY: 843, title: 'kcal/h', titleX: 372, titleY: 737, titleSize: 11.5, titleLen: 35,
  order: ['ncTrf','ncAd','hfsTrf','hfsAd'],
  series: {ncAd: {vals: jNcAd}, ncTrf: {vals: jNcTrf}, hfsAd: {vals: jHfsAd}, hfsTrf: {vals: jHfsTrf}},
  legend: {word: 'ad', a: 400, ta: 416.7, b: 463, tb: 479, r1: 669, r2: 684.7, w: 11, sw: 2}});

circadian(Object.assign({name: 'locomotor-mean-chart', x0: 103.3, x24: 334.3, top: 865.7, bottom: 1017, axisY: 1017, y: linear(0, 150, 1017, 865.7), floor: 0,
  yTicks: kYTicks, xTicks: zXTicks, xLabelY: 1031, fmt: fmt0, ztY: 1045, title: 'a.u.', titleX: 78, titleY: 940, titleSize: 11.5, titleLen: 21,
  order: ['hfsTrf','ncTrf','hfsAd','ncAd'],
  series: {ncAd: {vals: kNcAd, err: kNcAdErr}, ncTrf: {vals: kNcTrf, err: kNcTrfErr}, hfsAd: {vals: kHfsAd, err: kHfsAdErr}, hfsTrf: {vals: kHfsTrf, err: kHfsTrfErr}},
  legend: {word: 'Ad', a: 107, ta: 123.3, b: 166.7, tb: 182.3, r1: 873, r2: 887.7, w: 10, sw: 1.6}}, lightEdge));

circadian({name: 'locomotor-fit-chart', x0: 398.7, x24: 629.7, top: 866, bottom: 1017.3, axisY: 1017.3, y: linear(0, 150, 1017.3, 866),
  yTicks: kYTicks, xTicks: zXTicks, xLabelY: 1031, fmt: fmt0, ztY: 1045, title: 'a.u.', titleX: 374, titleY: 940.7, titleSize: 12, titleLen: 21,
  order: ['ncTrf','hfsAd','ncAd','hfsTrf'],
  series: {ncAd: {vals: lNcAd}, ncTrf: {vals: lNcTrf}, hfsAd: {vals: lHfsAd}, hfsTrf: {vals: lHfsTrf}},
  legend: {word: 'Ad', a: 400.7, ta: 417.3, b: 462, tb: 478.7, r1: 873, r2: 888, w: 11, sw: 2}});
</script>
</body>
</html>
